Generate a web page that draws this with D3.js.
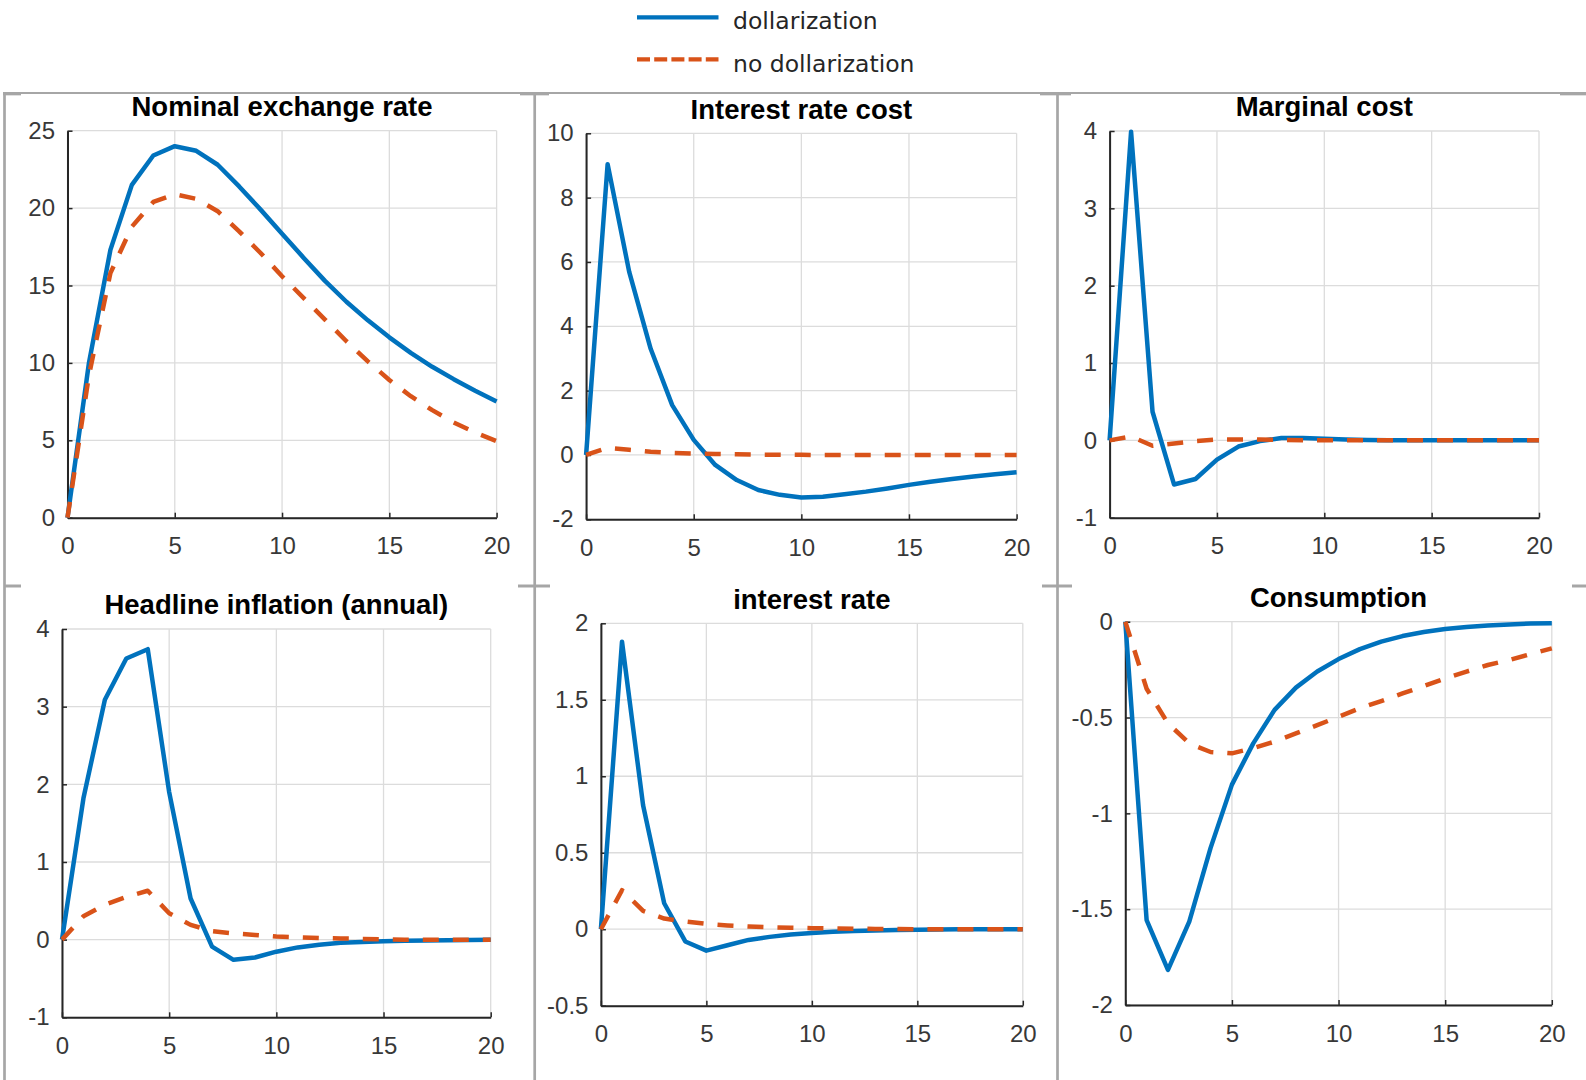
<!DOCTYPE html>
<html>
<head>
<meta charset="utf-8">
<script src="https://cdn.jsdelivr.net/npm/d3@7"></script>
<style>
  html, body { margin: 0; padding: 0; background: #ffffff; }
  svg { display: block; }
</style>
</head>
<body>
<svg id="chart" width="1586" height="1080"></svg>
<script>
// ---------------- DATA ----------------
const periods = [0, 1, 2, 3, 4, 5, 6, 7, 8, 9, 10, 11, 12, 13, 14, 15, 16, 17, 18, 19, 20];
const xTicks = [0, 5, 10, 15, 20];
const seriesNames = ["dollarization", "no dollarization"];
const panelTitles = ["Nominal exchange rate", "Interest rate cost", "Marginal cost",
                     "Headline inflation (annual)", "interest rate", "Consumption"];

const yTicksNER = [0, 5, 10, 15, 20, 25];
const yTicksIRC = [-2, 0, 2, 4, 6, 8, 10];
const yTicksMC  = [-1, 0, 1, 2, 3, 4];
const yTicksHI  = [-1, 0, 1, 2, 3, 4];
const yTicksIR  = [-0.5, 0, 0.5, 1, 1.5, 2];
const yTicksC   = [-2, -1.5, -1, -0.5, 0];

const nerDollar   = [0, 10.0, 17.3, 21.5, 23.4, 24.0, 23.7, 22.8, 21.4, 19.9, 18.35, 16.8, 15.3, 13.95, 12.75, 11.65, 10.65, 9.75, 8.95, 8.2, 7.5];
const nerNoDollar = [0, 9.2, 15.8, 18.8, 20.4, 20.9, 20.6, 19.8, 18.5, 17.1, 15.6, 14.2, 12.8, 11.4, 10.1, 8.9, 7.85, 6.95, 6.15, 5.5, 4.95];

const ircDollar   = [0, 9.04, 5.7, 3.3, 1.55, 0.47, -0.31, -0.78, -1.09, -1.24, -1.32, -1.30, -1.22, -1.14, -1.04, -0.93, -0.83, -0.75, -0.67, -0.60, -0.54];
const ircNoDollar = [0, 0.22, 0.16, 0.1, 0.06, 0.04, 0.03, 0.02, 0.01, 0.01, 0.005, 0, 0, 0, 0, 0, 0, 0, 0, 0, 0];

const mcDollar    = [0, 3.99, 0.37, -0.57, -0.5, -0.25, -0.08, -0.01, 0.03, 0.03, 0.02, 0.01, 0.005, 0, 0, 0, 0, 0, 0, 0, 0];
const mcNoDollar  = [0, 0.05, -0.07, -0.04, -0.01, 0.01, 0.01, 0.01, 0.005, 0, 0, 0, 0, 0, 0, 0, 0, 0, 0, 0, 0];

const hiDollar    = [0, 1.82, 3.09, 3.62, 3.74, 1.9, 0.53, -0.09, -0.26, -0.23, -0.155, -0.10, -0.065, -0.04, -0.03, -0.02, -0.015, -0.01, -0.008, -0.005, -0.003];
const hiNoDollar  = [0, 0.3, 0.45, 0.55, 0.63, 0.34, 0.19, 0.11, 0.08, 0.06, 0.04, 0.03, 0.02, 0.015, 0.01, 0.005, 0, 0, 0, 0, 0];

const irDollar    = [0, 1.88, 0.81, 0.17, -0.08, -0.14, -0.105, -0.07, -0.05, -0.035, -0.024, -0.017, -0.012, -0.008, -0.005, -0.003, -0.002, -0.001, 0, 0, 0];
const irNoDollar  = [0, 0.255, 0.12, 0.07, 0.05, 0.035, 0.025, 0.018, 0.013, 0.01, 0.007, 0.005, 0.003, 0.002, 0.001, 0, 0, 0, 0, 0, 0];

const consDollar   = [0, -1.557, -1.817, -1.565, -1.18, -0.85, -0.635, -0.46, -0.344, -0.26, -0.195, -0.143, -0.104, -0.075, -0.054, -0.038, -0.028, -0.02, -0.014, -0.01, -0.008];
const consNoDollar = [0, -0.35, -0.53, -0.635, -0.68, -0.687, -0.66, -0.626, -0.583, -0.54, -0.496, -0.452, -0.414, -0.374, -0.336, -0.296, -0.26, -0.226, -0.2, -0.169, -0.139];

// ---------------- LAYOUT / STYLE ----------------
const colors = ["#0072BD", "#D95319"];
const panelBoxes = [
  {left: 67.5,   right: 496.6,  top: 130.7, bottom: 517.7},
  {left: 586.1,  right: 1016.6, top: 133.3, bottom: 519.3},
  {left: 1109.6, right: 1539.0, top: 131.0, bottom: 517.7},
  {left: 62.0,   right: 490.7,  top: 629.0, bottom: 1017.3},
  {left: 600.9,  right: 1022.8, top: 623.3, bottom: 1005.7},
  {left: 1125.3, right: 1551.8, top: 621.7, bottom: 1005.0}
];
const panels = [
  {yTicks: yTicksNER, series: [nerDollar, nerNoDollar]},
  {yTicks: yTicksIRC, series: [ircDollar, ircNoDollar]},
  {yTicks: yTicksMC,  series: [mcDollar, mcNoDollar]},
  {yTicks: yTicksHI,  series: [hiDollar, hiNoDollar]},
  {yTicks: yTicksIR,  series: [irDollar, irNoDollar]},
  {yTicks: yTicksC,   series: [consDollar, consNoDollar]}
];

const svg = d3.select("#chart");

// ---------- figure frame lines (gray) ----------
const borderColor = "#a6a6a6";
const frame = svg.append("g");
frame.append("line").attr("x1", 3).attr("x2", 1586).attr("y1", 93).attr("y2", 93)
  .attr("stroke", borderColor).attr("stroke-width", 2);
[[3, 21], [520, 549], [1040, 1071], [1560, 1586]].forEach(([a, c]) =>
  frame.append("line").attr("x1", a).attr("x2", c).attr("y1", 94.6).attr("y2", 94.6)
    .attr("stroke", borderColor).attr("stroke-width", 1.5));
[4.5, 534.7, 1057.5].forEach(xx =>
  frame.append("line").attr("x1", xx).attr("x2", xx).attr("y1", 92).attr("y2", 1080)
    .attr("stroke", borderColor).attr("stroke-width", 2.7));
[[4, 21], [518, 550], [1042, 1072], [1572, 1586]].forEach(([a, c]) =>
  frame.append("line").attr("x1", a).attr("x2", c).attr("y1", 586).attr("y2", 586)
    .attr("stroke", borderColor).attr("stroke-width", 3));

// ---------- legend ----------
const legend = svg.append("g");
const legLineX = d3.scaleLinear().domain([0, 1]).range([637, 718.5]);
const legRows = [{lineY: 17.3, textY: 29}, {lineY: 59.3, textY: 71.5}];
seriesNames.forEach((name, i) => {
  legend.append("line")
    .attr("x1", legLineX(0)).attr("x2", legLineX(1))
    .attr("y1", legRows[i].lineY).attr("y2", legRows[i].lineY)
    .attr("stroke", colors[i]).attr("stroke-width", 4.2)
    .attr("stroke-dasharray", i === 1 ? "13,4.2" : null);
  legend.append("text")
    .attr("x", 733).attr("y", legRows[i].textY)
    .attr("font-family", "'DejaVu Sans', sans-serif")
    .attr("font-size", "23.5px").attr("fill", "#262626")
    .text(name);
});

// ---------- panels ----------
const fmt = d => String(+(+d).toFixed(2));

panels.forEach((p, pi) => {
  const B = panelBoxes[pi];
  const g = svg.append("g");
  const x = d3.scaleLinear().domain([periods[0], periods[periods.length - 1]]).range([B.left, B.right]);
  const y = d3.scaleLinear().domain([p.yTicks[0], p.yTicks[p.yTicks.length - 1]]).range([B.bottom, B.top]);

  // grid
  g.append("g").selectAll("line").data(xTicks).join("line")
    .attr("x1", d => x(d)).attr("x2", d => x(d))
    .attr("y1", B.top).attr("y2", B.bottom)
    .attr("stroke", "#dcdcdc").attr("stroke-width", 1.3);
  g.append("g").selectAll("line").data(p.yTicks).join("line")
    .attr("x1", B.left).attr("x2", B.right)
    .attr("y1", d => y(d)).attr("y2", d => y(d))
    .attr("stroke", "#dcdcdc").attr("stroke-width", 1.3);

  // axes
  const xAxis = g.append("g").attr("transform", `translate(0,${B.bottom})`)
    .call(d3.axisBottom(x).tickValues(xTicks).tickSizeInner(-5).tickSizeOuter(0)
      .tickPadding(19.5).tickFormat(fmt));
  const yAxis = g.append("g").attr("transform", `translate(${B.left},0)`)
    .call(d3.axisLeft(y).tickValues(p.yTicks).tickSizeInner(-5).tickSizeOuter(0)
      .tickPadding(12.5).tickFormat(fmt));
  [xAxis, yAxis].forEach(ax => {
    ax.select(".domain").attr("stroke", "#262626").attr("stroke-width", 2);
    ax.selectAll(".tick line").attr("stroke", "#262626").attr("stroke-width", 1.5);
    ax.selectAll(".tick text")
      .attr("font-family", "'Liberation Sans', Arial, sans-serif")
      .attr("font-size", "24px").attr("fill", "#383838");
  });

  // lines
  const line = d3.line().x((d, i) => x(periods[i])).y(d => y(d));
  p.series.forEach((s, si) => {
    g.append("path").datum(s)
      .attr("d", line)
      .attr("fill", "none")
      .attr("stroke", colors[si])
      .attr("stroke-width", 4.5)
      .attr("stroke-linejoin", "round")
      .attr("stroke-dasharray", si === 1 ? "16,14" : null);
  });

  // title
  g.append("text")
    .attr("x", (B.left + B.right) / 2).attr("y", B.top - 14.8)
    .attr("text-anchor", "middle")
    .attr("font-family", "'Liberation Sans', Arial, sans-serif")
    .attr("font-weight", "bold").attr("font-size", "27.5px").attr("fill", "#000")
    .text(panelTitles[pi]);
});
</script>
</body>
</html>
